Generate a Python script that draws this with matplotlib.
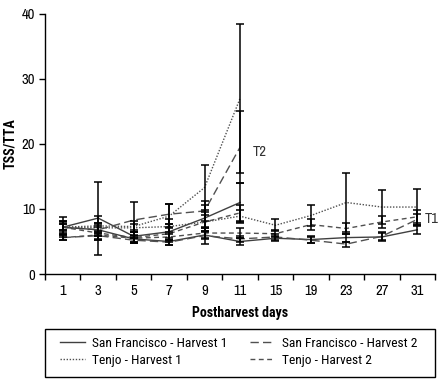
import matplotlib
matplotlib.use("Agg")
import matplotlib.pyplot as plt
import numpy as np
from matplotlib.ticker import FixedLocator, NullFormatter
from matplotlib.patches import Rectangle

plt.rcParams['font.family'] = ['Archivo Narrow', 'Roboto Condensed', 'DejaVu Sans']
BOLD_FAMILY = ['Roboto Condensed', 'DejaVu Sans']
LEG_FAMILY = ['Roboto Condensed', 'DejaVu Sans']

days = ['1', '3', '5', '7', '9', '11', '15', '19', '23', '27', '31']

# Treatment T2 (days 1-11)
sf_h1_t2 = [7.2, 8.6, 5.8, 6.5, 8.6, 11.0]
sf_h2_t2 = [7.2, 6.8, 8.3, 9.2, 9.7, 19.5]
tj_h1_t2 = [7.2, 7.4, 7.3, 8.9, 13.3, 27.0]
tj_h2_t2 = [7.2, 6.3, 5.6, 6.2, 8.0, 9.4]
sf_h1_t2_err = [1.0, 5.6, 1.0, 1.2, 2.0, 3.0]
sf_h2_t2_err = [0.8, 1.0, 2.8, 1.5, 1.5, 5.5]
tj_h1_t2_err = [1.5, 1.5, 0.8, 1.8, 3.5, 11.5]
tj_h2_t2_err = [0.5, 1.0, 0.8, 1.0, 1.5, 1.2]

# Treatment T1 (days 1-31)
sf_h1_t1 = [7.2, 6.8, 5.4, 5.0, 6.0, 5.0, 5.5, 5.3, 5.6, 5.7, 6.8]
sf_h2_t1 = [5.6, 5.9, 5.2, 4.9, 5.9, 5.4, 5.7, 5.2, 4.6, 5.8, 8.4]
tj_h1_t1 = [7.2, 7.1, 7.1, 7.3, 8.0, 8.9, 7.5, 9.0, 11.0, 10.3, 10.3]
tj_h2_t1 = [5.6, 6.0, 5.5, 5.7, 6.3, 6.3, 6.2, 7.6, 7.0, 8.0, 8.8]
sf_h1_t1_err = [0.5, 0.7, 0.5, 0.5, 0.6, 0.5, 0.4, 0.5, 0.6, 0.6, 0.6]
sf_h2_t1_err = [0.4, 0.6, 0.4, 0.4, 1.3, 0.5, 0.5, 0.5, 0.4, 0.6, 0.9]
tj_h1_t1_err = [1.0, 0.8, 0.6, 1.2, 1.0, 1.0, 0.9, 1.6, 4.5, 2.6, 2.8]
tj_h2_t1_err = [0.4, 0.6, 0.5, 0.7, 0.8, 0.8, 0.5, 0.8, 0.9, 0.9, 1.0]

labels = ['San Francisco - Harvest 1', 'San Francisco - Harvest 2',
          'Tenjo - Harvest 1', 'Tenjo - Harvest 2']

styles = {
    'sf_h1': dict(color='#404040', lw=1.0, linestyle='-'),
    'sf_h2': dict(color='#505050', lw=1.0, linestyle=(0, (6, 3))),
    'tj_h1': dict(color='#505050', lw=1.0, linestyle=(0, (1, 1.2))),
    'tj_h2': dict(color='#505050', lw=1.0, linestyle=(0, (3.5, 2.5))),
}

fig = plt.figure(figsize=(4.47, 3.88), dpi=100)
ax = fig.add_axes([0.1007, 0.2938, 0.8725, 0.6702])

x_all = np.arange(len(days))
x_t2 = np.arange(len(sf_h1_t2))

series = [
    ('sf_h1', x_t2, sf_h1_t2, sf_h1_t2_err, None),
    ('sf_h2', x_t2, sf_h2_t2, sf_h2_t2_err, None),
    ('tj_h1', x_t2, tj_h1_t2, tj_h1_t2_err, None),
    ('tj_h2', x_t2, tj_h2_t2, tj_h2_t2_err, None),
    ('sf_h1', x_all, sf_h1_t1, sf_h1_t1_err, labels[0]),
    ('sf_h2', x_all, sf_h2_t1, sf_h2_t1_err, labels[1]),
    ('tj_h1', x_all, tj_h1_t1, tj_h1_t1_err, labels[2]),
    ('tj_h2', x_all, tj_h2_t1, tj_h2_t1_err, labels[3]),
]

handles = {}
for key, xs, ys, es, lab in series:
    ax.errorbar(xs, ys, yerr=es, fmt='none', ecolor='black', elinewidth=1.1,
                capsize=3, capthick=1.1, zorder=3)
    ln, = ax.plot(xs, ys, label=lab, zorder=2, **styles[key])
    if lab:
        handles[lab] = ln

ax.text(5.35, 18.8, 'T2', fontsize=10.5, color='#333333', va='center', ha='left')
ax.text(10.22, 8.4, 'T1', fontsize=10.5, color='#333333', va='center', ha='left')

ax.set_xlim(-0.5, len(days) - 0.5)
ax.set_ylim(0, 40)
ax.set_yticks([0, 10, 20, 30, 40])
ax.xaxis.set_major_locator(FixedLocator(np.arange(-0.5, len(days), 1.0)))
ax.xaxis.set_major_formatter(NullFormatter())
ax.xaxis.set_minor_locator(FixedLocator(x_all))
ax.set_xticklabels(days, minor=True)
ax.tick_params(axis='x', which='major', direction='out', length=4, width=1, color='black')
ax.tick_params(axis='x', which='minor', length=0, labelsize=10.5, pad=7)
ax.tick_params(axis='y', direction='out', length=4, width=1, labelsize=10.5, pad=3)

for s in ['top', 'right']:
    ax.spines[s].set_visible(False)
for s in ['left', 'bottom']:
    ax.spines[s].set_linewidth(1.0)
    ax.spines[s].set_color('black')

ax.set_xlabel('Postharvest days', fontsize=10, fontweight='bold',
              family=BOLD_FAMILY, labelpad=6)
ax.set_ylabel('TSS/TTA', fontsize=10, fontweight='bold', family=BOLD_FAMILY)
ax.yaxis.set_label_coords(-0.072, 0.5)

leg_kw = dict(loc='center left', fontsize=9.7, frameon=False, handlelength=1.85,
              borderaxespad=0, borderpad=0, handletextpad=0.5, labelspacing=0.3,
              prop={'family': LEG_FAMILY, 'size': 9.7})
leg_kw.pop('fontsize')
col1 = [labels[0], labels[2]]
col2 = [labels[1], labels[3]]
leg1 = fig.legend([handles[l] for l in col1], col1,
                  bbox_to_anchor=(60.5 / 447, 1 - 352 / 388), **leg_kw)
leg2 = fig.legend([handles[l] for l in col2], col2,
                  bbox_to_anchor=(250 / 447, 1 - 352 / 388), **leg_kw)
fig.patches.append(Rectangle((45 / 447, 11 / 388), 390 / 447, 48 / 388,
                             transform=fig.transFigure, fill=False,
                             edgecolor='black', linewidth=1.0))

fig.savefig('out.png', dpi=100)
